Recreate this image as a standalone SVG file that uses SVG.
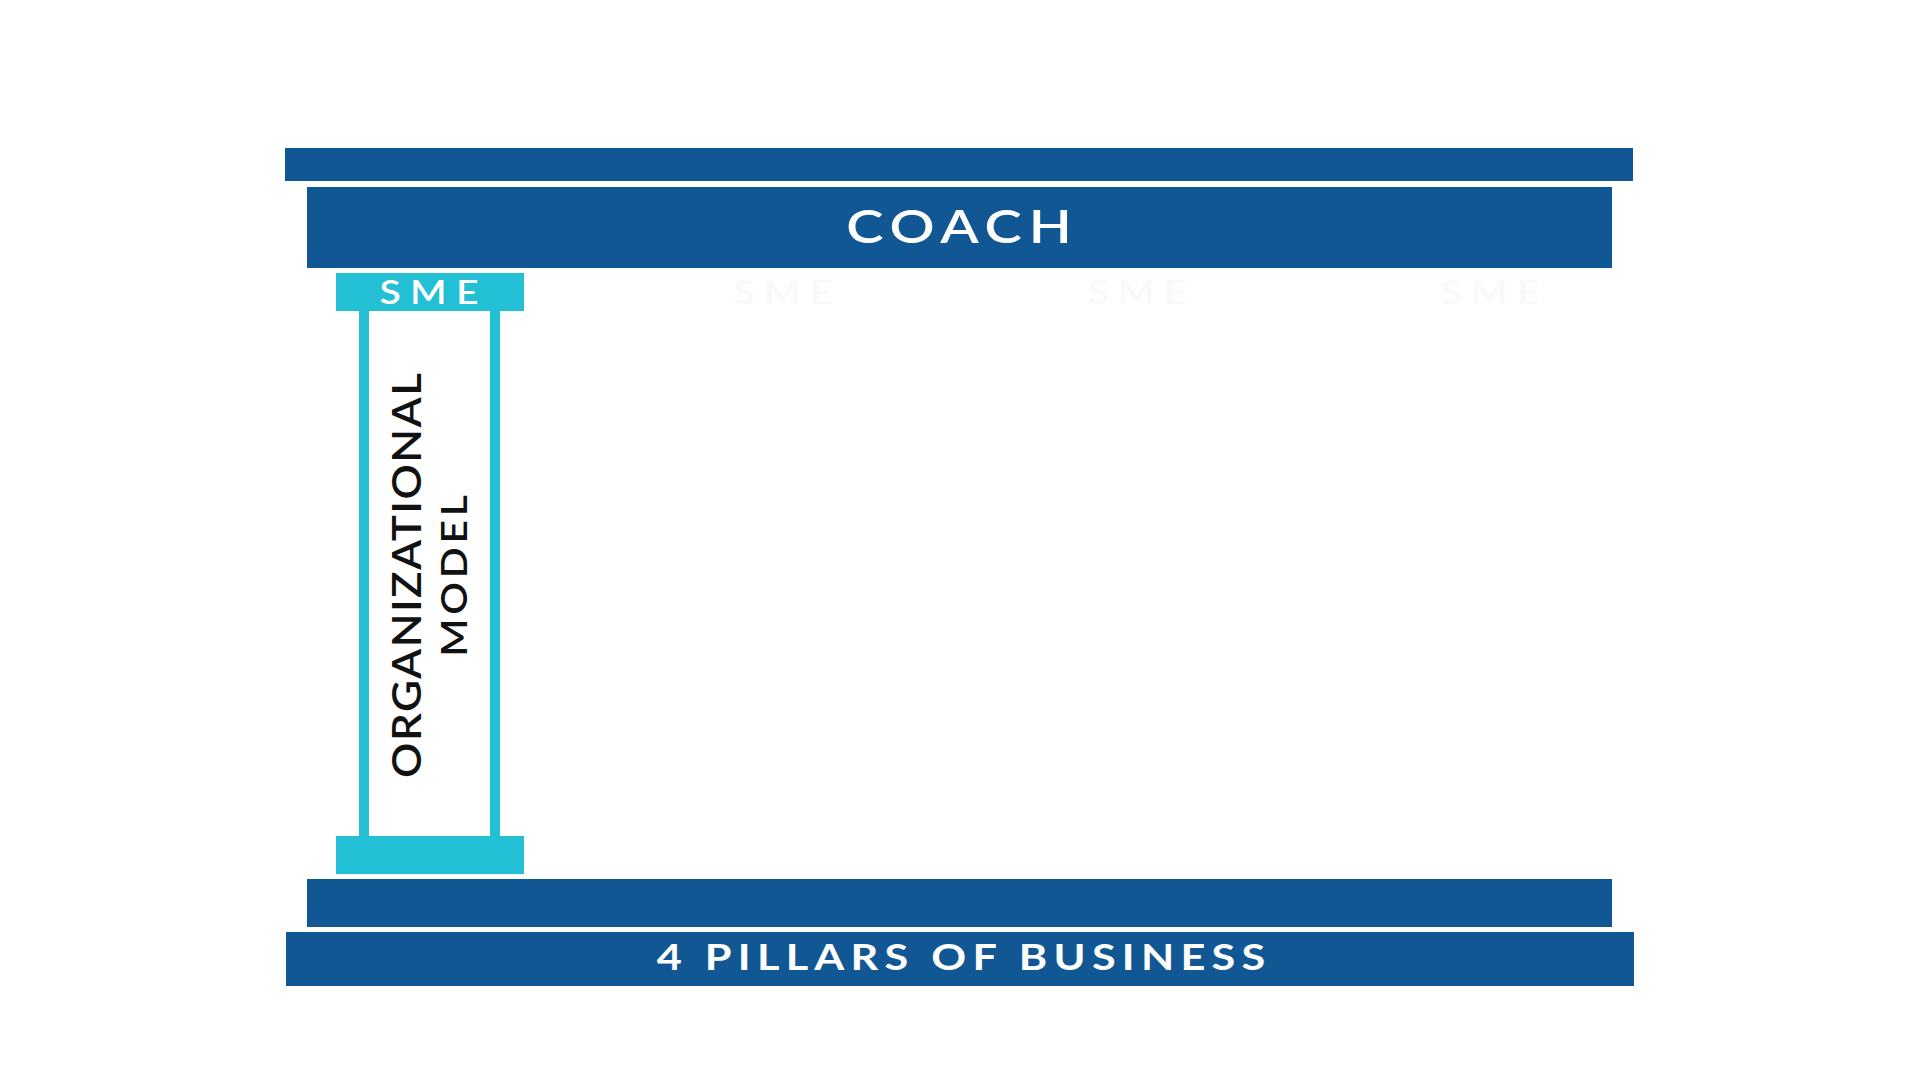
<svg xmlns="http://www.w3.org/2000/svg" width="1920" height="1080" viewBox="0 0 1920 1080">
<style>
.navy{fill:#115793}
.cyan{fill:#22BFD5}
.t{font-family:Lato,"DejaVu Sans","Liberation Sans",sans-serif}
.w{fill:#ffffff}
.ghost{fill:#f8f9f9}
.dark{fill:#111111}
</style>
<rect width="1920" height="1080" fill="#ffffff"/>
<g id="roof">
<rect class="navy" x="285" y="148" width="1348" height="33"/>
</g>
<g id="coach">
<rect class="navy" x="307" y="187" width="1305" height="81"/>
<text class="t w" transform="translate(959,243) scale(1.22,1)" font-size="46" font-weight="600" text-anchor="middle" textLength="185" lengthAdjust="spacing">COACH</text>
</g>
<g id="pillar-organizational-model">
<rect class="cyan" x="336" y="273" width="188" height="38"/>
<text class="t w" transform="translate(429,303.5) scale(1.22,1)" font-size="32" font-weight="600" text-anchor="middle" textLength="81" lengthAdjust="spacing">SME</text>
<rect class="cyan" x="359" y="310" width="10" height="527"/>
<rect class="cyan" x="490" y="310" width="10" height="527"/>
<rect class="cyan" x="336" y="836" width="188" height="38"/>
<text class="t dark" transform="translate(421,575.5) rotate(-90) scale(1.1,1)" font-size="40" font-weight="600" text-anchor="middle" textLength="368" lengthAdjust="spacing">ORGANIZATIONAL</text>
<text class="t dark" transform="translate(467,576) rotate(-90) scale(1.1,1)" font-size="37" font-weight="600" text-anchor="middle" textLength="147" lengthAdjust="spacing">MODEL</text>
</g>
<g id="pillar-2">
<text class="t ghost" transform="translate(783,304) scale(1.22,1)" font-size="32" font-weight="600" text-anchor="middle" textLength="81" lengthAdjust="spacing">SME</text>
</g>
<g id="pillar-3">
<text class="t ghost" transform="translate(1137,304) scale(1.22,1)" font-size="32" font-weight="600" text-anchor="middle" textLength="81" lengthAdjust="spacing">SME</text>
</g>
<g id="pillar-4">
<text class="t ghost" transform="translate(1490,304) scale(1.22,1)" font-size="32" font-weight="600" text-anchor="middle" textLength="81" lengthAdjust="spacing">SME</text>
</g>
<g id="foundation">
<rect class="navy" x="307" y="879" width="1305" height="48"/>
</g>
<g id="four-pillars">
<rect class="navy" x="286" y="932" width="1348" height="54"/>
<text class="t w" transform="translate(961,969.5) scale(1.2,1)" font-size="36" font-weight="bold" text-anchor="middle" textLength="507" lengthAdjust="spacing">4 PILLARS OF BUSINESS</text>
</g>
</svg>
